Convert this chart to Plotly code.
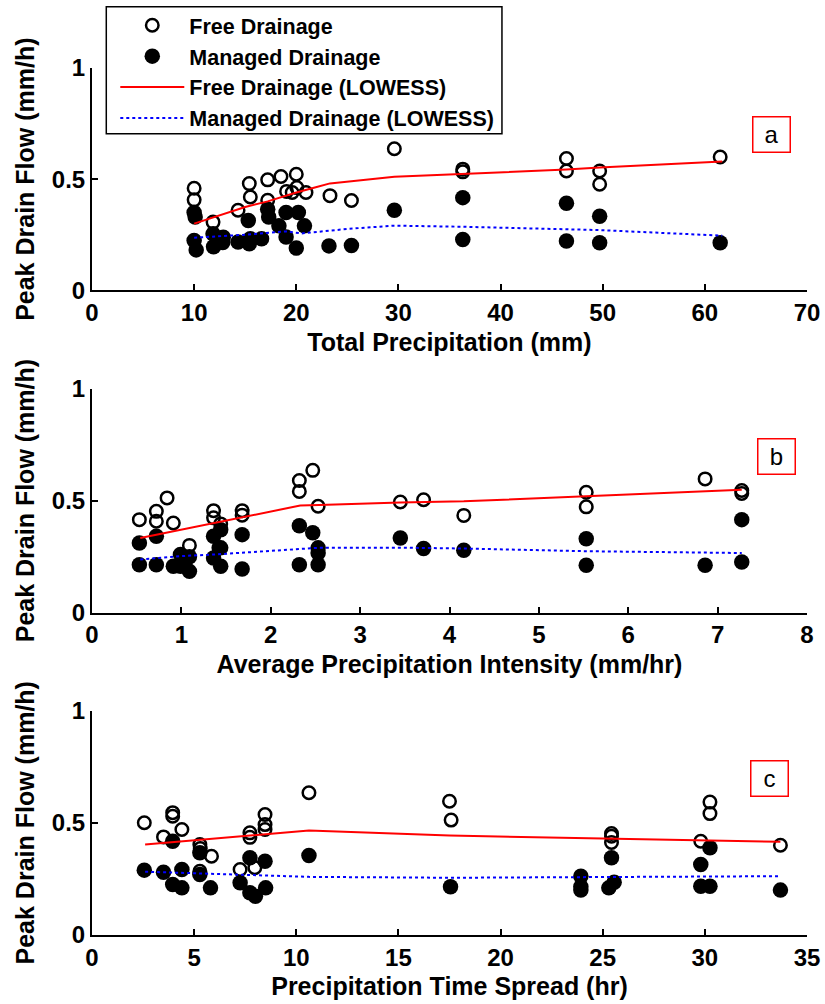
import plotly.graph_objects as go

# ---------------- Panel a: Total Precipitation (mm) ----------------
a_free_x = [10.0, 10.0, 11.85, 14.3, 15.4, 15.5, 17.2, 17.2, 18.5, 19.05, 20.0, 20.05, 20.95, 19.6, 23.3, 25.4,
            29.6, 36.3, 36.3, 46.45, 46.45, 49.7, 49.7, 61.5]
a_free_y = [0.459, 0.407, 0.307, 0.360, 0.480, 0.420, 0.497, 0.405, 0.512, 0.445, 0.522, 0.462, 0.440, 0.440, 0.426, 0.404,
            0.637, 0.545, 0.533, 0.593, 0.537, 0.537, 0.477, 0.600]
a_man_x = [10.0, 10.1, 10.0, 10.2, 11.85, 11.9, 12.85, 12.8, 14.3, 15.3, 15.5, 15.4, 16.6, 17.2, 17.3, 18.3,
           19.0, 19.0, 20.2, 20.0, 20.8, 23.2, 25.4, 29.6, 36.3, 36.3, 46.45, 46.45, 49.7, 49.7, 61.5]
a_man_y = [0.350, 0.330, 0.224, 0.182, 0.254, 0.196, 0.239, 0.215, 0.217, 0.314, 0.232, 0.210, 0.232, 0.365, 0.330, 0.290,
           0.350, 0.240, 0.350, 0.190, 0.290, 0.200, 0.202, 0.360, 0.417, 0.229, 0.392, 0.222, 0.333, 0.214, 0.214]
a_lo_free_x = [10.0, 15.0, 17.2, 20.0, 22.0, 23.3, 29.6, 36.3, 46.45, 49.7, 61.7]
a_lo_free_y = [0.300, 0.375, 0.400, 0.440, 0.465, 0.481, 0.511, 0.523, 0.543, 0.552, 0.580]
a_lo_man_x = [10.0, 15.0, 19.0, 20.5, 25.2, 29.6, 36.3, 46.45, 49.7, 61.7]
a_lo_man_y = [0.237, 0.250, 0.265, 0.256, 0.277, 0.291, 0.286, 0.277, 0.271, 0.246]

# ---------------- Panel b: Average Precipitation Intensity (mm/hr) ----------------
b_free_x = [0.53, 0.72, 0.72, 0.84, 0.91, 1.09, 1.36, 1.36, 1.44, 1.42, 1.68, 1.68, 2.32, 2.32, 2.47, 2.53,
            3.45, 3.71, 4.16, 5.53, 5.53, 6.86, 7.27, 7.27]
b_free_y = [0.415, 0.452, 0.408, 0.512, 0.400, 0.300, 0.455, 0.423, 0.396, 0.289, 0.455, 0.435, 0.590, 0.541, 0.635, 0.475,
            0.494, 0.504, 0.434, 0.537, 0.472, 0.597, 0.545, 0.532]
b_man_x = [0.53, 0.53, 0.72, 0.72, 0.91, 0.99, 0.99, 1.09, 1.09, 1.36, 1.44, 1.36, 1.44, 1.44, 1.68, 1.68,
           2.32, 2.32, 2.47, 2.53, 2.53, 2.53, 3.45, 3.71, 4.16, 5.53, 5.53, 6.86, 7.27, 7.27]
b_man_y = [0.311, 0.214, 0.341, 0.214, 0.207, 0.259, 0.207, 0.249, 0.184, 0.341, 0.370, 0.244, 0.289, 0.207, 0.348, 0.195,
           0.388, 0.214, 0.356, 0.289, 0.266, 0.214, 0.333, 0.286, 0.278, 0.330, 0.211, 0.211, 0.415, 0.226]
b_lo_free_x = [0.54, 2.33, 2.54, 3.45, 4.16, 5.53, 7.27]
b_lo_free_y = [0.333, 0.478, 0.480, 0.492, 0.497, 0.519, 0.548]
b_lo_man_x = [0.54, 0.99, 1.4, 2.52, 3.45, 4.16, 5.53, 7.27]
b_lo_man_y = [0.237, 0.252, 0.260, 0.289, 0.290, 0.286, 0.274, 0.266]

# ---------------- Panel c: Precipitation Time Spread (hr) ----------------
c_free_x = [2.56, 3.95, 3.95, 3.5, 4.4, 5.28, 5.3, 5.85, 5.28, 7.25, 7.73, 7.73, 8.47, 8.47, 8.47, 7.97,
            10.62, 17.5, 17.58, 25.43, 25.43, 25.43, 29.8, 30.25, 30.25, 33.7]
c_free_y = [0.500, 0.545, 0.529, 0.437, 0.470, 0.403, 0.385, 0.351, 0.284, 0.292, 0.455, 0.435, 0.537, 0.492, 0.470, 0.300,
            0.634, 0.596, 0.512, 0.452, 0.440, 0.412, 0.418, 0.592, 0.541, 0.400]
c_man_x = [2.56, 3.5, 3.95, 3.95, 4.4, 4.4, 5.28, 5.28, 5.8, 7.25, 7.73, 7.73, 8.0, 8.47, 8.5, 10.62,
           17.55, 23.93, 23.93, 23.93, 25.43, 25.56, 25.3, 29.8, 30.25, 29.8, 30.25, 33.7]
c_man_y = [0.289, 0.280, 0.418, 0.225, 0.292, 0.210, 0.366, 0.270, 0.210, 0.233, 0.344, 0.188, 0.173, 0.329, 0.210, 0.354,
           0.215, 0.262, 0.215, 0.200, 0.344, 0.235, 0.210, 0.314, 0.389, 0.217, 0.217, 0.200]
c_lo_free_x = [2.6, 10.62, 17.5, 25.43, 29.8, 33.7]
c_lo_free_y = [0.403, 0.466, 0.443, 0.430, 0.421, 0.415]
c_lo_man_x = [2.6, 7.75, 10.62, 17.5, 23.93, 33.7]
c_lo_man_y = [0.282, 0.266, 0.259, 0.255, 0.259, 0.262]

x_titles = ["Total Precipitation (mm)", "Average Precipitation Intensity (mm/hr)", "Precipitation Time Spread (hr)"]
x_ranges = [[0, 70], [0, 8], [0, 35]]
x_dticks = [10, 1, 5]
panel_labels = ["a", "b", "c"]
y_title = "Peak Drain Flow (mm/h)"
y_tickvals = [0, 0.5, 1]
y_ticktext = ["0", "0.5", "1"]
series_names = ["Free Drainage", "Managed Drainage", "Free Drainage (LOWESS)", "Managed Drainage (LOWESS)"]

panels = [
    (a_free_x, a_free_y, a_man_x, a_man_y, a_lo_free_x, a_lo_free_y, a_lo_man_x, a_lo_man_y),
    (b_free_x, b_free_y, b_man_x, b_man_y, b_lo_free_x, b_lo_free_y, b_lo_man_x, b_lo_man_y),
    (c_free_x, c_free_y, c_man_x, c_man_y, c_lo_free_x, c_lo_free_y, c_lo_man_x, c_lo_man_y),
]

W, H = 825, 1004
FONT = "Liberation Sans"
# plot-area box in pixels
L, R, T, B = 91.7, 807.3, 68.3, 935.5
PW, PH = R - L, B - T


def px_x(p):
    return (p - L) / PW


def px_y(p):
    return (B - p) / PH


y_doms = [[px_y(290.7), px_y(68.3)], [px_y(613.0), px_y(389.0)], [px_y(935.5), px_y(711.0)]]
label_pos = [(px_x(772), px_y(135)), (px_x(777), px_y(456.7)), (px_x(769.5), px_y(779))]

fig = go.Figure()
for i, (fx, fy, mx, my, lfx, lfy, lmx, lmy) in enumerate(panels):
    xa = "x" if i == 0 else f"x{i+1}"
    ya = "y" if i == 0 else f"y{i+1}"
    show = i == 0
    fig.add_trace(go.Scatter(x=fx, y=fy, mode="markers", name=series_names[0], xaxis=xa, yaxis=ya,
                             showlegend=show, legendgroup="g1",
                             marker=dict(symbol="circle-open", size=12.5, color="black", line=dict(width=2.5, color="black"))))
    fig.add_trace(go.Scatter(x=mx, y=my, mode="markers", name=series_names[1], xaxis=xa, yaxis=ya,
                             showlegend=show, legendgroup="g2",
                             marker=dict(symbol="circle", size=15.5, color="black")))
    fig.add_trace(go.Scatter(x=lfx, y=lfy, mode="lines", name=series_names[2], xaxis=xa, yaxis=ya,
                             showlegend=show, legendgroup="g3",
                             line=dict(color="#ff0000", width=2)))
    fig.add_trace(go.Scatter(x=lmx, y=lmy, mode="lines", name=series_names[3], xaxis=xa, yaxis=ya,
                             showlegend=show, legendgroup="g4",
                             line=dict(color="#0000ff", width=2, dash="dot")))

axis_common = dict(showline=True, linecolor="black", linewidth=2, ticks="inside", ticklen=6, tickwidth=1.5,
                   tickcolor="black", showgrid=False, zeroline=False, mirror=False, automargin=False,
                   tickfont=dict(family=FONT, size=24, color="black", weight="bold"))
layout = {}
for i in range(3):
    xk = "xaxis" if i == 0 else f"xaxis{i+1}"
    yk = "yaxis" if i == 0 else f"yaxis{i+1}"
    ya = "y" if i == 0 else f"y{i+1}"
    xa = "x" if i == 0 else f"x{i+1}"
    layout[xk] = dict(axis_common, domain=[0, 1], range=x_ranges[i], dtick=x_dticks[i], tick0=0, anchor=ya,
                      title=dict(text=x_titles[i], font=dict(family=FONT, size=25, color="black", weight="bold"),
                                 standoff=8))
    layout[yk] = dict(axis_common, domain=y_doms[i], range=[0, 1], tickvals=y_tickvals, ticktext=y_ticktext, anchor=xa,
                      title=dict(text=y_title, font=dict(family=FONT, size=25, color="black", weight="bold"),
                                 standoff=10))

fig.update_layout(**layout)

annotations = []
for lab, (ax_, ay_) in zip(panel_labels, label_pos):
    annotations.append(dict(text=lab, x=ax_, y=ay_, xref="paper", yref="paper", xanchor="center", yanchor="middle",
                            showarrow=False, font=dict(family=FONT, size=24, color="black"),
                            bordercolor="#ff0000", borderwidth=1.5, width=34, height=32, bgcolor="white"))

legend_box = dict(type="rect", xref="paper", yref="paper", x0=px_x(106), x1=px_x(502), y0=px_y(134), y1=px_y(7),
                  line=dict(color="black", width=1.5), fillcolor="white", layer="above")

fig.update_layout(
    width=W, height=H, margin=dict(l=L, r=W - R, t=T, b=H - B, autoexpand=False),
    paper_bgcolor="white", plot_bgcolor="white",
    annotations=annotations,
    shapes=[legend_box],
    legend=dict(x=px_x(115), y=px_y(5), xanchor="left", yanchor="top", bgcolor="rgba(0,0,0,0)",
                borderwidth=0, traceorder="grouped", tracegroupgap=0,
                font=dict(family=FONT, size=21.5, color="black", weight="bold"), itemwidth=64),
)

fig.write_html("out.html")
